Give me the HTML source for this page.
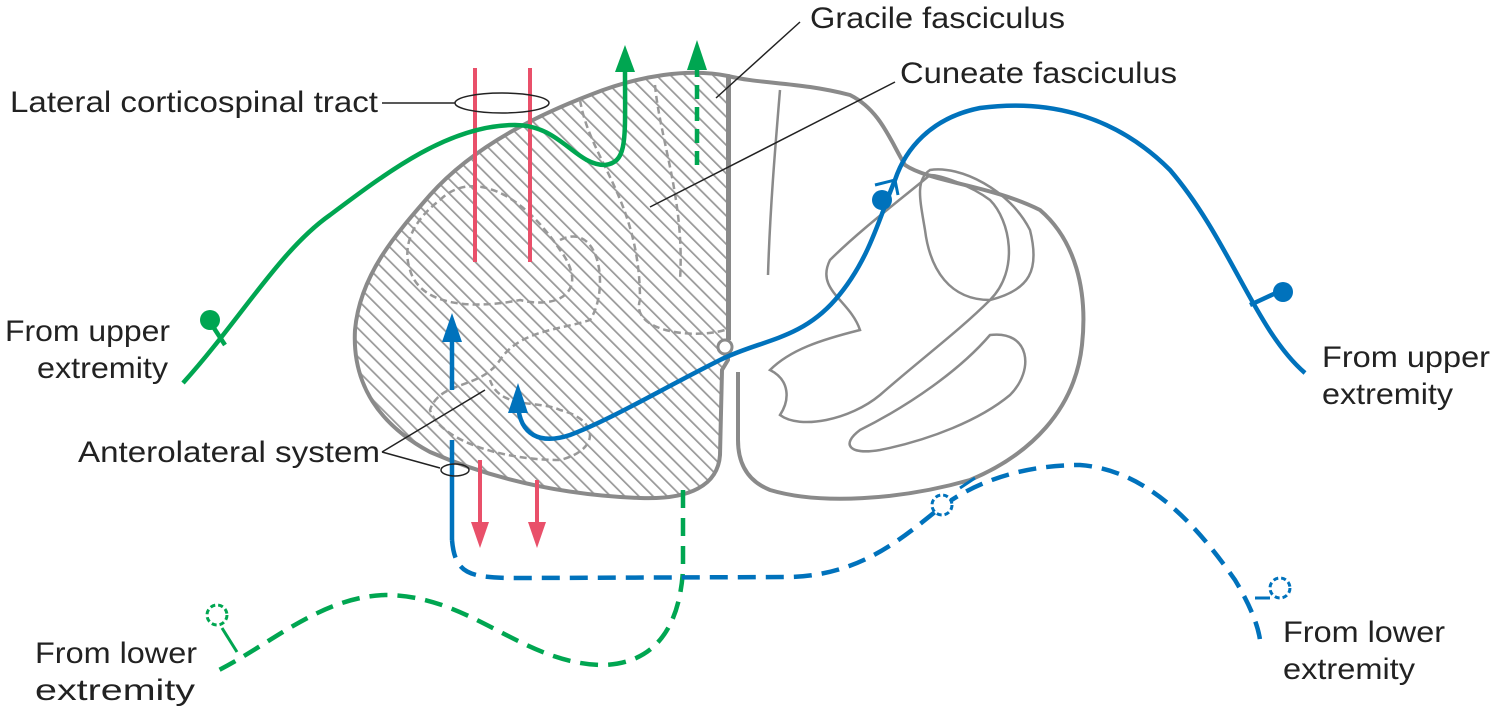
<!DOCTYPE html>
<html><head><meta charset="utf-8"><style>
html,body{margin:0;padding:0;background:#fff;}
svg{display:block;}
text{font-family:"Liberation Sans",sans-serif;font-size:30px;fill:#222;}
</style></head><body>
<svg width="1492" height="708" viewBox="0 0 1492 708" xmlns="http://www.w3.org/2000/svg">
<defs>
<pattern id="h" width="10" height="10" patternUnits="userSpaceOnUse" patternTransform="rotate(-45)">
<rect width="10" height="10" fill="#fff"/><line x1="0" y1="0" x2="0" y2="10" stroke="#999" stroke-width="3.5"/>
</pattern>
</defs>
<path d="M728,76 C690,68 640,75 590,95 C530,118 470,150 430,195 C395,235 360,275 355,330 C352,385 380,425 430,452 C490,478 560,495 640,498 C690,500 718,485 720,455 L722,370 L728,360 Z" fill="url(#h)" stroke="#8a8a8a" stroke-width="4"/>
<path d="M728,76 C760,84 800,82 850,95 C880,110 890,140 905,165 C930,182 990,185 1040,210 C1075,240 1088,290 1082,345 C1075,410 1030,455 970,480 C900,500 820,505 770,490 C745,480 738,460 738,440 L738,372" fill="none" stroke="#8a8a8a" stroke-width="4"/>
<line x1="730" y1="78" x2="730" y2="340" stroke="#8a8a8a" stroke-width="2"/>
<circle cx="725" cy="347" r="7" fill="#fff" stroke="#8a8a8a" stroke-width="3"/>
<path d="M655,85 C660,140 685,200 680,280 M580,100 C590,160 640,200 640,300 C630,330 690,340 725,330 M440,200 C470,170 520,190 560,250 C590,290 560,310 520,300 C470,310 420,305 410,270 C400,240 420,215 440,200 M560,240 C600,220 610,290 590,320 C560,330 520,330 500,360 C480,390 440,380 430,410 C440,440 500,460 560,460 C600,450 600,420 560,410 C540,400 500,410 490,380" fill="none" stroke="#999" stroke-width="2.5" stroke-dasharray="7 4"/>
<path d="M780,90 C775,150 770,210 768,275 M930,175 C900,200 860,230 830,260 C815,290 850,300 860,330 C820,340 790,350 770,370 C790,380 790,400 780,415 C800,430 850,420 880,395 C920,360 960,330 990,300 C1020,270 1010,220 990,200 C970,185 940,175 930,175 Z" fill="none" stroke="#8a8a8a" stroke-width="2.5"/>
<path d="M930,170 C960,165 1010,190 1030,230 C1040,270 1030,290 990,300 C950,300 930,270 925,230 C920,200 915,180 930,170 Z" fill="none" stroke="#8a8a8a" stroke-width="2.5"/>
<path d="M990,335 C1030,330 1035,370 1010,395 C980,420 930,440 880,450 C850,455 840,445 860,430 C910,405 960,370 990,335 Z" fill="none" stroke="#8a8a8a" stroke-width="2.5"/>
<g stroke="#e9506a" stroke-width="4" fill="#e9506a">
<line x1="475" y1="68" x2="475" y2="262"/><line x1="530" y1="68" x2="530" y2="262"/>
<line x1="480" y1="460" x2="480" y2="525"/><line x1="537" y1="480" x2="537" y2="525"/>
<path d="M471,522 L489,522 L480,548 Z" stroke="none"/><path d="M528,522 L546,522 L537,548 Z" stroke="none"/>
</g>
<g stroke="#00a651" stroke-width="4.5" fill="none">
<path d="M183,383 C240,320 280,250 330,215 C390,170 450,125 515,125 C560,125 575,165 605,165 C628,162 625,140 625,70"/>
<path d="M225,345 L210,322"/>
<path d="M697,165 L697,65" stroke-dasharray="14 8"/>
<path d="M683,490 L683,570 C680,620 660,665 600,665 C520,662 470,595 385,595 C320,597 270,645 215,672" stroke-dasharray="18 10"/>
<path d="M237,652 L222,628" stroke-width="3"/>
</g>
<circle cx="210" cy="320" r="10" fill="#00a651"/>
<circle cx="217" cy="615" r="10" fill="#fff" stroke="#00a651" stroke-width="3" stroke-dasharray="5 3"/>
<path d="M615,72 L635,72 L625,45 Z" fill="#00a651"/>
<path d="M687,70 L707,70 L697,40 Z" fill="#00a651"/>
<g stroke="#0072bc" stroke-width="4.5" fill="none">
<path d="M1305,373 C1255,330 1230,240 1170,170 C1110,110 1040,100 980,108 C930,118 905,150 895,180 C880,215 870,260 835,300 C800,340 760,340 720,360 C660,390 610,420 570,435 C540,445 520,435 518,405"/>
<path d="M1250,305 L1278,292"/>
<path d="M452,340 L452,390"/>
<path d="M452,440 L452,540"/>
<path d="M452,540 C455,575 470,578 520,578 L790,577 C860,575 900,540 940,508 C980,478 1030,465 1080,465 C1150,470 1200,530 1235,580 C1250,605 1258,625 1260,640" stroke-dasharray="18 10"/>
<path d="M960,488 L975,478 M1255,598 L1270,598" stroke-width="3"/>
<path d="M875,185 L895,180 L898,195" stroke-width="3"/>
</g>
<circle cx="882" cy="200" r="10" fill="#0072bc"/>
<circle cx="1283" cy="292" r="10" fill="#0072bc"/>
<circle cx="942" cy="505" r="10" fill="#fff" stroke="#0072bc" stroke-width="3" stroke-dasharray="5 3"/>
<circle cx="1280" cy="588" r="10" fill="#fff" stroke="#0072bc" stroke-width="3" stroke-dasharray="5 3"/>
<path d="M442,342 L462,342 L452,313 Z" fill="#0072bc"/>
<path d="M508,413 L528,413 L518,383 Z" fill="#0072bc"/>
<g stroke="#222" stroke-width="1.5" fill="none">
<line x1="382" y1="103" x2="455" y2="103"/>
<ellipse cx="502" cy="103" rx="47" ry="10"/>
<line x1="716" y1="98" x2="800" y2="22"/>
<line x1="650" y1="207" x2="895" y2="82"/>
<path d="M382,452 L485,390 M382,452 L440,468"/>
<ellipse cx="455" cy="470" rx="14" ry="6"/>
</g>
<text x="10" y="112" textLength="368" lengthAdjust="spacingAndGlyphs">Lateral corticospinal tract</text>
<text x="810" y="28" textLength="255" lengthAdjust="spacingAndGlyphs">Gracile fasciculus</text>
<text x="900" y="83" textLength="277" lengthAdjust="spacingAndGlyphs">Cuneate fasciculus</text>
<text x="5" y="341" textLength="165" lengthAdjust="spacingAndGlyphs">From upper</text>
<text x="37" y="378" textLength="131" lengthAdjust="spacingAndGlyphs">extremity</text>
<text x="1322" y="367" textLength="168" lengthAdjust="spacingAndGlyphs">From upper</text>
<text x="1322" y="404" textLength="131" lengthAdjust="spacingAndGlyphs">extremity</text>
<text x="78" y="462" textLength="302" lengthAdjust="spacingAndGlyphs">Anterolateral system</text>
<text x="35" y="663" textLength="162" lengthAdjust="spacingAndGlyphs">From lower</text>
<text x="35" y="700" textLength="160" lengthAdjust="spacingAndGlyphs">extremity</text>
<text x="1283" y="642" textLength="162" lengthAdjust="spacingAndGlyphs">From lower</text>
<text x="1283" y="679" textLength="132" lengthAdjust="spacingAndGlyphs">extremity</text>
</svg>
</body></html>
